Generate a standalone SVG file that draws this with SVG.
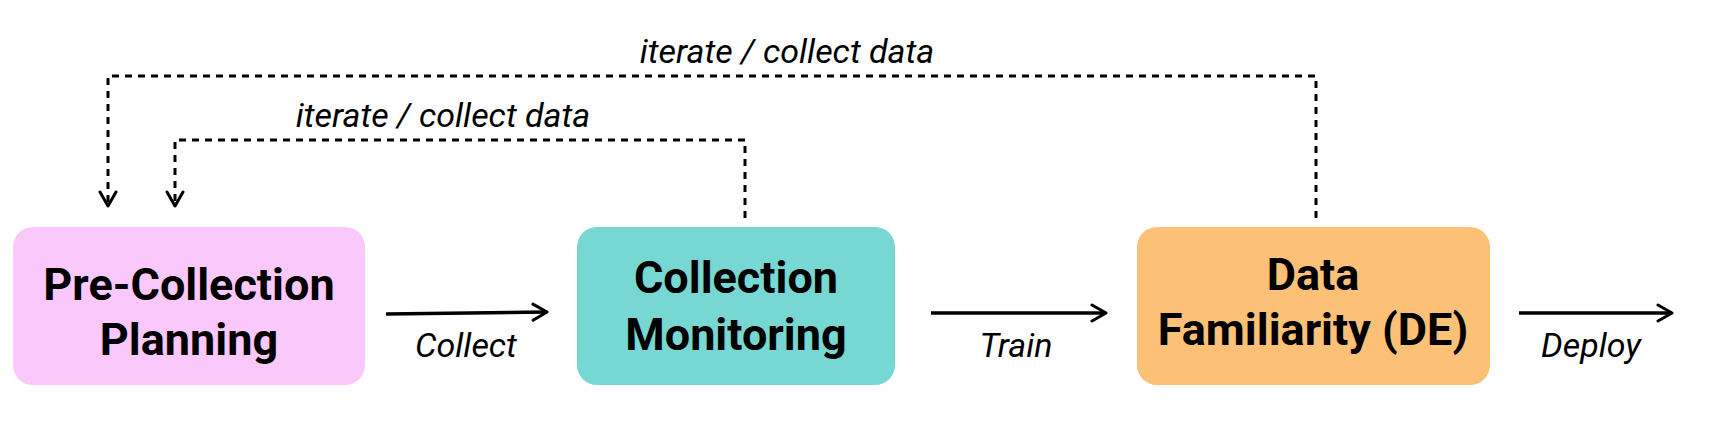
<svg xmlns="http://www.w3.org/2000/svg" width="1722" height="432" viewBox="0 0 1722 432">
<defs>
<marker id="ah" viewBox="0 0 20 20" refX="18" refY="10" markerWidth="20" markerHeight="20" markerUnits="userSpaceOnUse" orient="auto">
<path d="M4 2 L18 10 L4 18" fill="none" stroke="#000" stroke-width="3" stroke-linecap="round" stroke-linejoin="round"/>
</marker>
</defs>
<style>
.nt{font-family:Roboto,"Liberation Sans",sans-serif;font-weight:bold;font-size:45px;text-anchor:middle;fill:#000}
.lb{font-family:Roboto,"Liberation Sans",sans-serif;font-style:italic;font-size:34px;text-anchor:middle;fill:#000}
.solid{stroke:#000;stroke-width:3.5;fill:none;marker-end:url(#ah)}
.dash{stroke:#000;stroke-width:3;fill:none;stroke-dasharray:7 6;marker-end:url(#ah)}
</style>
<rect width="1722" height="432" fill="#fff"/>
<g id="pre">
<rect x="13" y="227" width="352" height="158" rx="20" fill="#fbc8fb"/>
<text class="nt" x="189" y="300">Pre-Collection</text>
<text class="nt" x="189" y="355">Planning</text>
</g>
<g id="mon">
<rect x="577" y="227" width="318" height="158" rx="20" fill="#77d7d2"/>
<text class="nt" x="736" y="293">Collection</text>
<text class="nt" x="736" y="350">Monitoring</text>
</g>
<g id="fam">
<rect x="1137" y="227" width="353" height="158" rx="20" fill="#fdc077"/>
<text class="nt" x="1313" y="290">Data</text>
<text class="nt" x="1313" y="345">Familiarity (DE)</text>
</g>
<g id="connectors">
<path class="solid" d="M386 314 L547 312"/>
<path class="solid" d="M931 313 L1106 313"/>
<path class="solid" d="M1519 313 L1672 313"/>
<path class="dash" d="M745 218 L745 140 L175 140 L175 206"/>
<path class="dash" d="M1316 218 L1316 76 L108 76 L108 206"/>
<text class="lb" x="466" y="357">Collect</text>
<text class="lb" x="1016" y="357">Train</text>
<text class="lb" x="1591" y="357">Deploy</text>
<text class="lb" x="443" y="127">iterate / collect data</text>
<text class="lb" x="787" y="63">iterate / collect data</text>
</g>
</svg>
